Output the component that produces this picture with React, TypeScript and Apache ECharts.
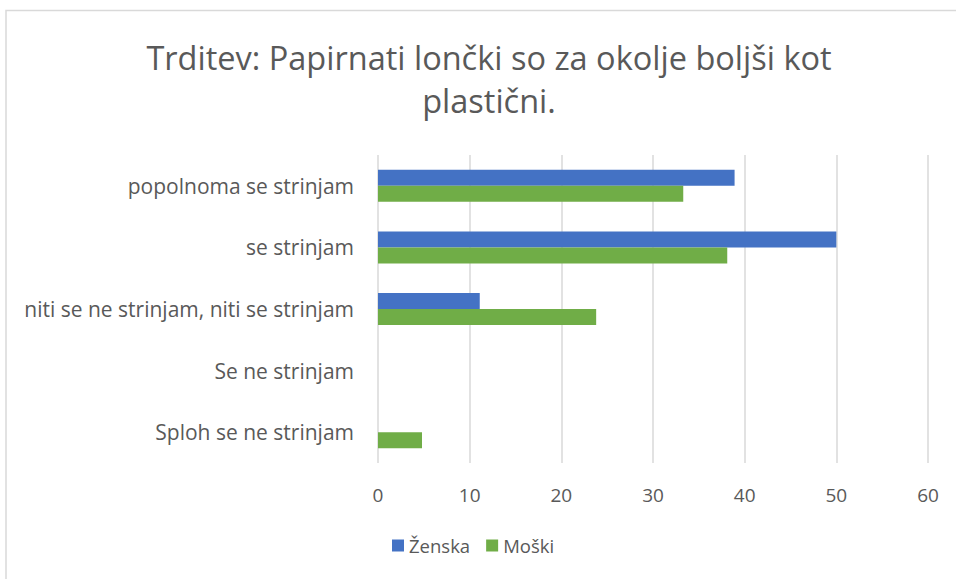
import React, { useEffect, useRef } from "react";
import * as echarts from "echarts";

const categories = [
  "popolnoma se strinjam",
  "se strinjam",
  "niti se ne strinjam, niti se strinjam",
  "Se ne strinjam",
  "Sploh se ne strinjam",
];
const zenska = [38.9, 50, 11.1, 0, 0];
const moski = [33.3, 38.1, 23.8, 0, 4.8];
const xTicks = { min: 0, max: 60, interval: 10 };

const FONT = "Open Sans";
const TEXT = "#595959";

export default function App() {
  const ref = useRef<HTMLDivElement>(null);
  useEffect(() => {
    if (!ref.current) return;
    const chart = echarts.init(ref.current, null, { renderer: "svg" });
    chart.setOption({
      animation: false,
      backgroundColor: "#ffffff",
      textStyle: { fontFamily: FONT },
      title: {
        text: "Trditev: Papirnati lončki so za okolje boljši kot\nplastični.",
        left: 489,
        top: 36,
        textAlign: "center",
        padding: 0,
        textStyle: {
          fontFamily: FONT,
          fontSize: 32.5,
          fontWeight: "normal",
          color: TEXT,
          lineHeight: 43,
        },
      },
      graphic: [
        {
          type: "rect",
          shape: { x: 6, y: 10.5, width: 1000, height: 600 },
          style: { fill: "none", stroke: "#d9d9d9", lineWidth: 1.5 },
          silent: true,
          z: -1,
        },
      ],
      legend: {
        data: ["Ženska", "Moški"],
        left: 392,
        top: 536,
        padding: 0,
        itemWidth: 12,
        itemHeight: 12,
        itemGap: 16,
        icon: "rect",
        textStyle: { fontFamily: FONT, fontSize: 18.5, color: TEXT },
      },
      grid: { left: 378, right: 28, top: 155, bottom: 116, containLabel: false },
      xAxis: {
        type: "value",
        min: xTicks.min,
        max: xTicks.max,
        interval: xTicks.interval,
        axisLine: { show: false },
        axisTick: { show: false },
        splitLine: { show: true, lineStyle: { color: "#d9d9d9", width: 1.5 } },
        axisLabel: { fontFamily: FONT, fontSize: 19, color: TEXT, margin: 22 },
      },
      yAxis: {
        type: "category",
        data: categories,
        inverse: true,
        axisLine: { show: false },
        axisTick: { show: false },
        axisLabel: { fontFamily: FONT, fontSize: 21, color: TEXT, margin: 24 },
      },
      series: [
        {
          name: "Ženska",
          type: "bar",
          data: zenska,
          barWidth: 16,
          barGap: "0%",
          itemStyle: { color: "#4472C4" },
        },
        {
          name: "Moški",
          type: "bar",
          data: moski,
          barWidth: 16,
          barGap: "0%",
          itemStyle: { color: "#70AD47" },
        },
      ],
    });
    return () => chart.dispose();
  }, []);
  return (
    <div
      ref={ref}
      style={{ position: "fixed", left: 0, top: 0, width: 956, height: 579 }}
    />
  );
}
